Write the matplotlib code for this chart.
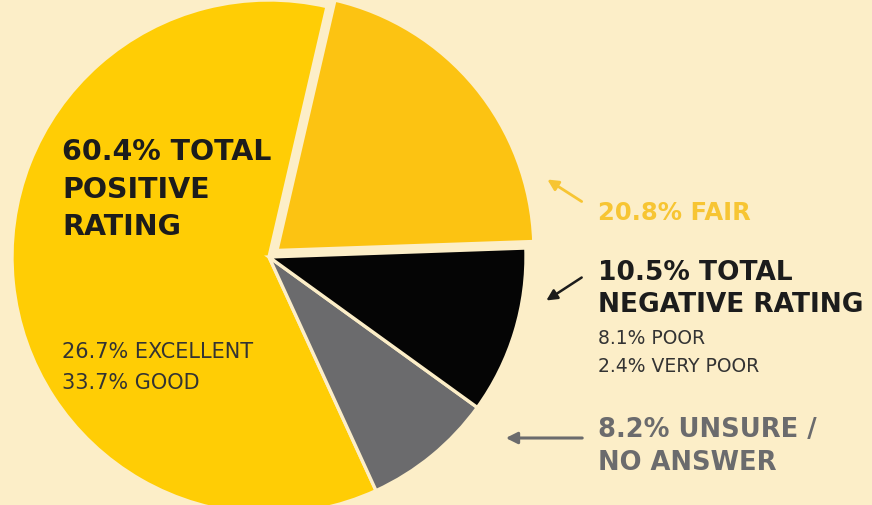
import matplotlib.pyplot as plt

# survey result shares (percent)
labels = ['Fair', 'Positive', 'Unsure / no answer', 'Negative']
shares = [20.8, 60.4, 8.2, 10.5]
colors = ['#FCC312', '#FFCD05', '#6B6B6D', '#050505']
explode = [0.04, 0, 0, 0]

positive_parts = [('EXCELLENT', 26.7), ('GOOD', 33.7)]
negative_parts = [('POOR', 8.1), ('VERY POOR', 2.4)]

bg = '#FCEEC8'
W, H = 872, 506
plt.rcParams['font.family'] = ['DejaVu Sans']

fig = plt.figure(figsize=(W / 100, H / 100), dpi=100, facecolor=bg)
ax = fig.add_axes([0, 0, 1, 1])
ax.set_facecolor(bg)


def Y(y):
    # layout written top-down in pixels
    return H - y


R = 257
# pie() offsets exploded wedges in data units, so scale by the radius
ax.pie(shares, colors=colors, explode=[e * R for e in explode], startangle=2,
       counterclock=True, center=(269, Y(258)), radius=R,
       wedgeprops=dict(edgecolor=bg, linewidth=2.4))
ax.set_xlim(0, W)
ax.set_ylim(0, H)
ax.set_aspect('equal')
ax.axis('off')

dark = '#1C1C1C'
mid = '#333333'
yellow = '#F7C533'
grey = '#6B6B6D'

# positive block
for i, line in enumerate([f'{shares[1]:.1f}% TOTAL', 'POSITIVE', 'RATING']):
    ax.text(62, Y(152 + 37.5 * i), line, fontsize=20.5, fontweight='bold',
            color=dark, va='center', ha='left')
for i, (name, v) in enumerate(positive_parts):
    ax.text(62, Y(352 + 31 * i), f'{v:.1f}% {name}', fontsize=15,
            color=mid, va='center', ha='left')

# fair
ax.annotate('', xy=(545, Y(179)), xytext=(584, Y(204)),
            arrowprops=dict(arrowstyle='-|>', color=yellow, lw=2,
                            mutation_scale=16))
ax.text(598, Y(213), f'{shares[0]:.1f}% FAIR', fontsize=17.5, fontweight='bold',
        color=yellow, va='center', ha='left')

# negative
ax.annotate('', xy=(544, Y(303)), xytext=(584, Y(277)),
            arrowprops=dict(arrowstyle='-|>', color=dark, lw=1.8,
                            mutation_scale=16))
ax.text(598, Y(273), f'{shares[3]:.1f}% TOTAL', fontsize=19,
        fontweight='bold', color=dark, va='center', ha='left')
ax.text(598, Y(305), 'NEGATIVE RATING', fontsize=19, fontweight='bold',
        color=dark, va='center', ha='left')
for i, (name, v) in enumerate(negative_parts):
    ax.text(598, Y(338 + 29 * i), f'{v:.1f}% {name}', fontsize=13.5,
            color=mid, va='center', ha='left')

# unsure
ax.annotate('', xy=(503, Y(439)), xytext=(585, Y(439)),
            arrowprops=dict(arrowstyle='-|>', color=grey, lw=2.2,
                            mutation_scale=17))
ax.text(598, Y(430), f'{shares[2]:.1f}% UNSURE /', fontsize=18.5,
        fontweight='bold', color=grey, va='center', ha='left')
ax.text(598, Y(463), 'NO ANSWER', fontsize=18.5, fontweight='bold',
        color=grey, va='center', ha='left')

fig.savefig('out.png', dpi=100, facecolor=bg)
